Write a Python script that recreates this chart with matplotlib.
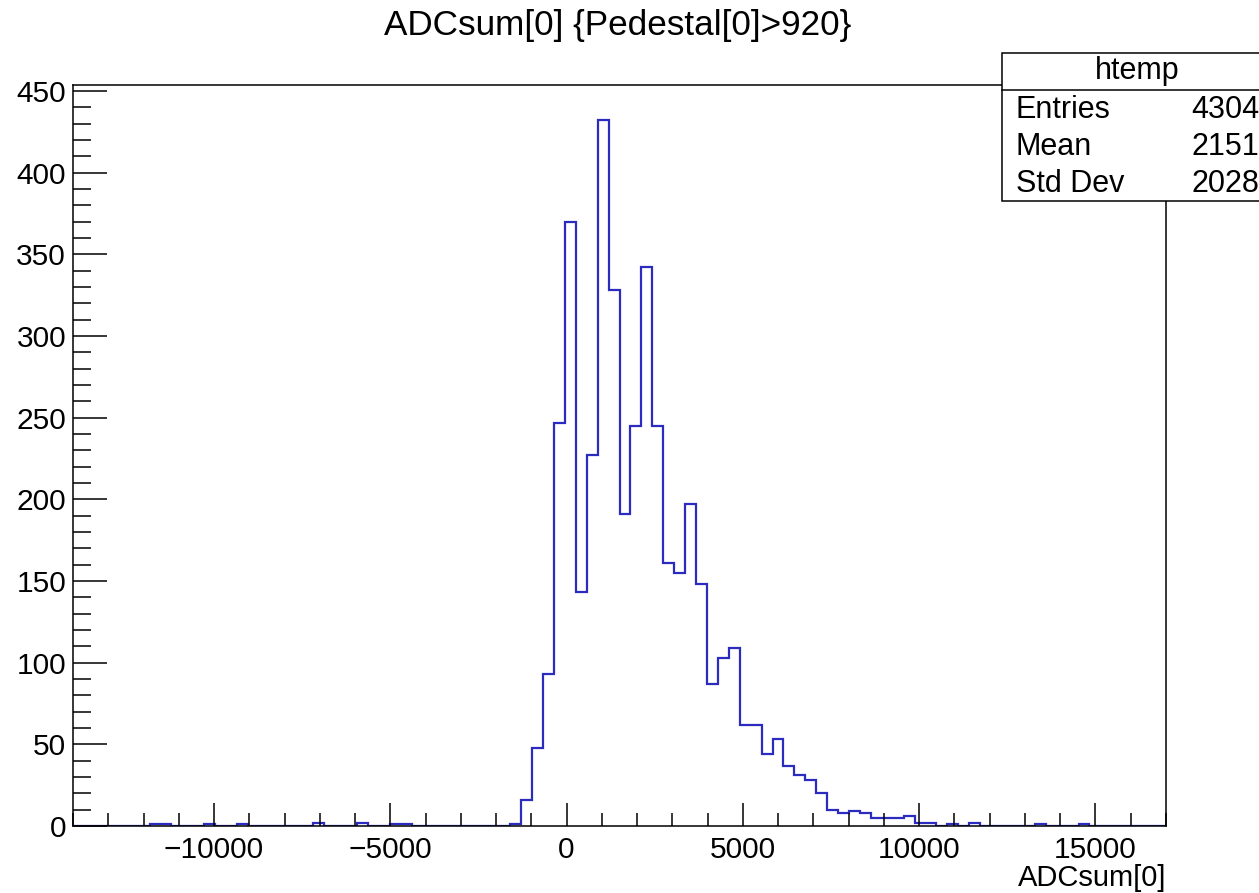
#
# ROOT-style histogram of ADCsum[0] with a pedestal cut
#
import numpy as np
import matplotlib
matplotlib.use('Agg')
import matplotlib.pyplot as plt
from matplotlib.patches import Rectangle
from matplotlib.ticker import MultipleLocator

# histogram binning (100 bins, as TTree::Draw makes them)
x_lo, x_hi, n_bins = -14000, 17000, 100

# bin contents
counts = [
    0, 0, 0, 0, 0, 0, 0, 1, 1, 0,
    0, 0, 1, 0, 0, 1, 0, 0, 0, 0,
    0, 0, 2, 0, 0, 0, 2, 0, 0, 1,
    1, 0, 0, 0, 0, 0, 0, 0, 0, 0,
    1, 16, 48, 93, 247, 370, 143, 227, 432, 328,
    191, 245, 342, 245, 161, 155, 197, 148, 87, 103,
    109, 62, 62, 44, 53, 37, 31, 28, 20, 10,
    8, 9, 8, 5, 5, 5, 6, 2, 2, 0,
    1, 0, 2, 0, 0, 0, 0, 0, 1, 0,
    0, 0, 1, 0, 0, 0, 0, 0, 0, 0,
]

title = "ADCsum[0] {Pedestal[0]>920}"
x_title = "ADCsum[0]"
stat_name = "htemp"
stat_labels = ["Entries", "Mean", "Std Dev"]
stat_values = ["4304", "2151", "2028"]

plt.rcParams['font.family'] = ['Liberation Sans', 'DejaVu Sans']

W, H = 1259, 893
fig = plt.figure(figsize=(W / 100, H / 100), dpi=100)

def fx(px):
    return px / W

def fy(py):
    return 1 - py / H

ax = fig.add_axes([fx(73), fy(826), fx(1166) - fx(73), fy(85) - fy(826)])

edges = np.linspace(x_lo, x_hi, n_bins + 1)
ax.stairs(counts, edges, color="#2b2bc0", linewidth=1.6)

ax.set_xlim(x_lo, x_hi)
ax.set_ylim(0, max(counts) * 1.05)

ax.xaxis.set_major_locator(MultipleLocator(5000))
ax.xaxis.set_minor_locator(MultipleLocator(1000))
ax.yaxis.set_major_locator(MultipleLocator(50))
ax.yaxis.set_minor_locator(MultipleLocator(10))

ax.tick_params(axis='x', which='major', direction='in', length=16.5, width=1.1,
               labelsize=21.5, pad=7)
ax.tick_params(axis='x', which='minor', direction='in', length=9.4, width=1.1)
ax.tick_params(axis='y', which='major', direction='in', length=24.5, width=1.1,
               labelsize=21.5, pad=5)
ax.tick_params(axis='y', which='minor', direction='in', length=13, width=1.1)
for s in ax.spines.values():
    s.set_linewidth(1.1)

fig.text(fx(618), fy(25), title, ha='center', va='center', fontsize=25.3)
fig.text(fx(1166), fy(878), x_title, ha='right', va='center', fontsize=21)

# stats box
box_l, box_r, box_t, box_b = 1002, 1275, 53, 201
fig.add_artist(Rectangle((fx(box_l), fy(box_b)), fx(box_r) - fx(box_l),
                         fy(box_t) - fy(box_b), transform=fig.transFigure,
                         facecolor='white', edgecolor='black', linewidth=1.1,
                         zorder=5))
fig.add_artist(plt.Line2D([fx(box_l), fx(box_r)], [fy(89.5), fy(89.5)],
                          transform=fig.transFigure, color='black',
                          linewidth=1.1, zorder=6))
fig.text(fx(1137), fy(71.5), stat_name, ha='center', va='center',
         fontsize=22, zorder=7)
for i, (lab, val) in enumerate(zip(stat_labels, stat_values)):
    yy = 110 + i * 37
    fig.text(fx(1016), fy(yy), lab, ha='left', va='center', fontsize=22, zorder=7)
    fig.text(fx(1259), fy(yy), val, ha='right', va='center', fontsize=22, zorder=7)

plt.savefig("out.png", dpi=100)
